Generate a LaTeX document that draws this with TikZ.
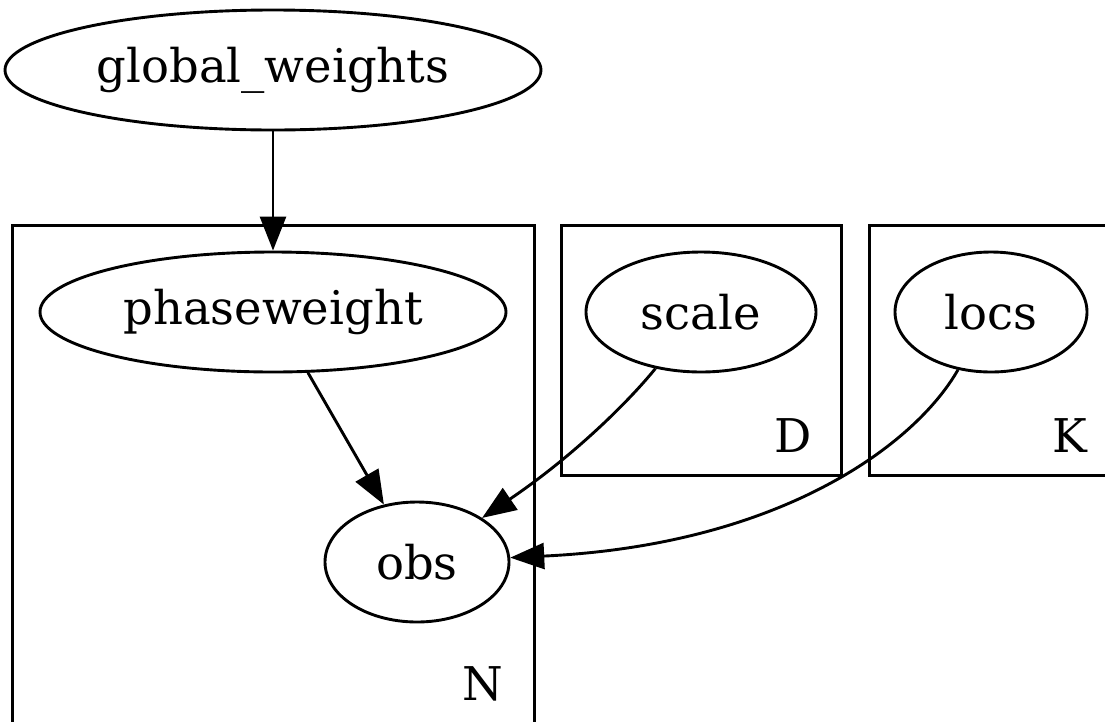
\documentclass[tikz,border=0pt]{standalone}
\usepackage{fontspec}
\setmainfont{DejaVu Serif}
\usetikzlibrary{shapes.geometric,arrows.meta}
\begin{document}
\begin{tikzpicture}[x=1pt,y=-1pt,
  rv/.style={draw,ellipse,line width=2.9pt,inner sep=0pt,minimum height=120pt,font=\fontsize{46.5}{55}\selectfont},
  plate/.style={draw,line width=3pt},
  platelabel/.style={font=\fontsize{46.5}{55}\selectfont,inner sep=0pt},
  edge/.style={line width=2.9pt,-{Triangle[length=34pt,width=26pt]}}]
\useasboundingbox (0,0) rectangle (1105,721);
\begin{scope}
\clip (0,0) rectangle (1105,721);
\draw[plate] (12,225) rectangle (534,740);
\draw[plate] (561,225) rectangle (841,475);
\draw[plate] (869,225) rectangle (1120,475);
\end{scope}
\node[platelabel] (labN) at (483,684) {N};
\node[platelabel] (labD) at (793,436) {D};
\node[platelabel] (labK) at (1070,436) {K};
\node[rv,minimum width=536pt] (gw) at (273,70) {global\_weights};
\node[rv,minimum width=466pt] (pw) at (273,312) {phaseweight};
\node[rv,minimum width=230pt] (sc) at (701,312) {scale};
\node[rv,minimum width=192pt] (lc) at (991,312) {locs};
\node[rv,minimum width=184pt] (ob) at (417,562) {obs};
\draw[edge] (gw) -- (pw);
\draw[edge] (pw) -- (ob);
\draw[edge] (sc) .. controls (630,400) and (575,455) .. (ob);
\draw[edge] (lc) .. controls (915,445) and (780,545) .. (ob);
\end{tikzpicture}
\end{document}
